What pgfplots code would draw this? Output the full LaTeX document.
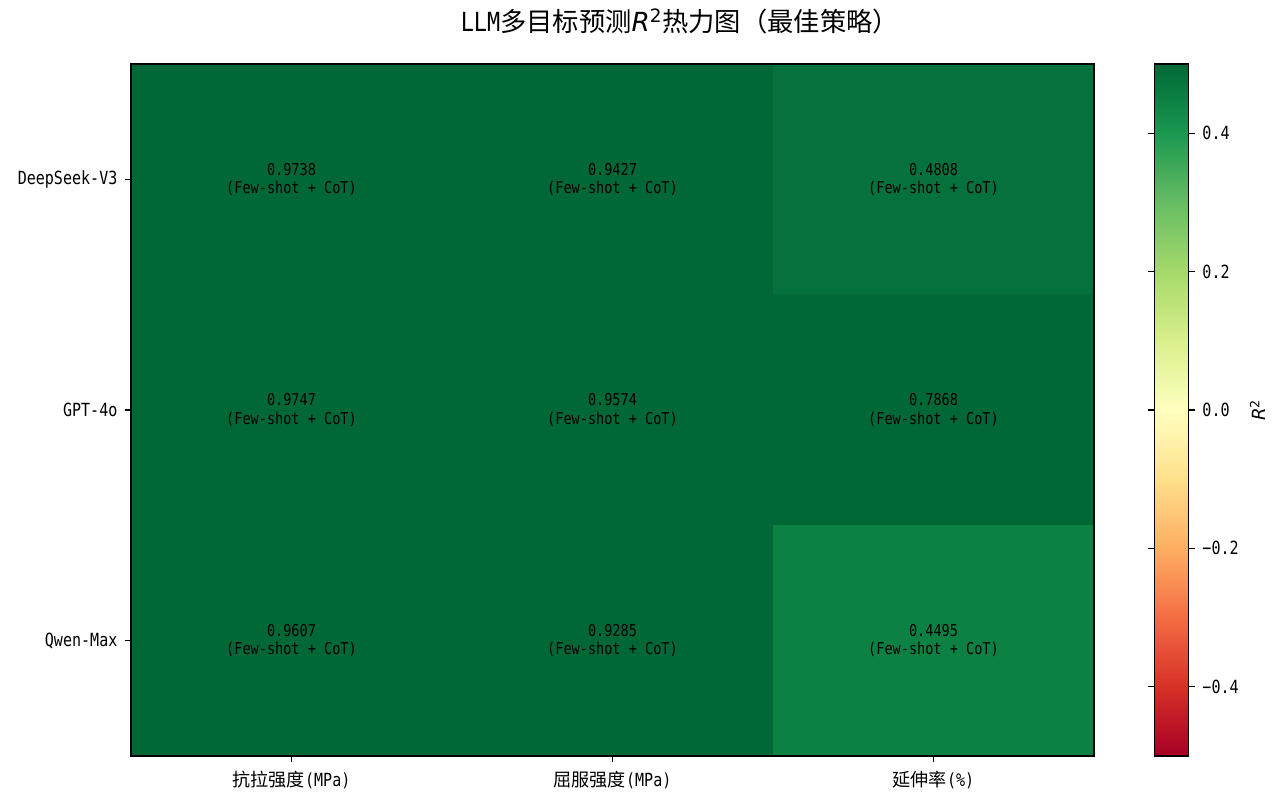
\documentclass[border=0pt]{standalone}
\usepackage{fontspec}
\usepackage{pgfplots}
\pgfplotsset{compat=1.18}
\setmainfont{DejaVu Sans Mono}[FakeStretch=0.83]
\newfontfamily\cjk{Noto Sans CJK SC}
\newfontfamily\dvs{DejaVu Sans}
\pgfplotsset{colormap={RdYlGn}{rgb255=(165,0,38) rgb255=(215,48,39) rgb255=(244,109,67) rgb255=(253,174,97) rgb255=(254,224,139) rgb255=(255,255,191) rgb255=(217,239,139) rgb255=(166,217,106) rgb255=(102,189,99) rgb255=(26,152,80) rgb255=(0,104,55)}}
\pgfplotstableread{
x y z
0 0 0.9738
1 0 0.9427
2 0 0.4808
0 1 0.9747
1 1 0.9574
2 1 0.7868
0 2 0.9607
1 2 0.9285
2 2 0.4495
}\rtable
\pgfplotstableread{
x y label
0 0 0.9738
1 0 0.9427
2 0 0.4808
0 1 0.9747
1 1 0.9574
2 1 0.7868
0 2 0.9607
1 2 0.9285
2 2 0.4495
}\ltable
\newcommand{\tlfont}{\fontsize{13.1}{15}\selectfont}
\begin{document}
\begin{tikzpicture}
\begin{axis}[
  at={(0,0)}, anchor=south west,
  scale only axis, width=693.36bp, height=498.24bp,
  xmin=-0.5, xmax=2.5, ymin=-0.5, ymax=2.5,
  y dir=reverse,
  colormap name=RdYlGn,
  point meta min=-0.5, point meta max=0.5,
  axis line style={line width=0.8bp},
  tick style={line width=0.8bp, black},
  tick align=outside, major tick length=4.6bp,
  xtick={0,1,2}, ytick={0,1,2},
  xtick pos=left, ytick pos=left,
  axis on top,
  xticklabels={{\cjk 抗拉强度}(MPa), {\cjk 屈服强度}(MPa), {\cjk 延伸率}(\%)},
  yticklabels={DeepSeek-V3, GPT-4o, Qwen-Max},
  xticklabel style={font=\tlfont, yshift=-3bp},
  yticklabel style={font=\tlfont, inner sep=0pt, xshift=-5bp},
  title={LLM{\cjk 多目标预测}{\dvs\itshape R}\textsuperscript{\dvs 2}{\cjk 热力图（最佳策略）}},
  title style={font=\fontsize{19.0}{22}\selectfont, at={(0.570,1)}, anchor=base, yshift=17.5bp},
  colorbar,
  colorbar/width=24.48bp,
  colorbar style={
    at={(parent axis.north east)}, anchor=north west, xshift=35.3bp,
    axis line style={line width=0.8bp},
    tick style={line width=0.8bp, black},
    tick align=outside, major tick length=4.6bp,
    ytick={-0.4,-0.2,0,0.2,0.4},
    yticklabels={−0.4,−0.2,0.0,0.2,0.4},
    yticklabel style={font=\tlfont, inner sep=0pt, xshift=5bp},
    ylabel={{\dvs\itshape R}\textsuperscript{\dvs 2}},
    ylabel style={font=\tlfont, at={(rel axis cs:2.79,0.5)}, anchor=north, inner sep=0pt},
  },
]
\addplot[matrix plot*, mesh/cols=3, point meta=explicit] table[meta=z] {\rtable};
\addplot[only marks, mark=none, point meta=explicit symbolic,
  nodes near coords={\pgfplotspointmeta\\(Few-shot + CoT)},
  nodes near coords align=center,
  every node near coord/.append style={align=center, anchor=center, text=black, inner sep=0pt,
    font=\fontsize{11.8}{13.4}\selectfont}] table[meta=label] {\ltable};
\end{axis}
\pgfresetboundingbox
\useasboundingbox (-94.32bp,-30.24bp) rectangle (827.28bp,544.32bp);
\end{tikzpicture}
\end{document}
